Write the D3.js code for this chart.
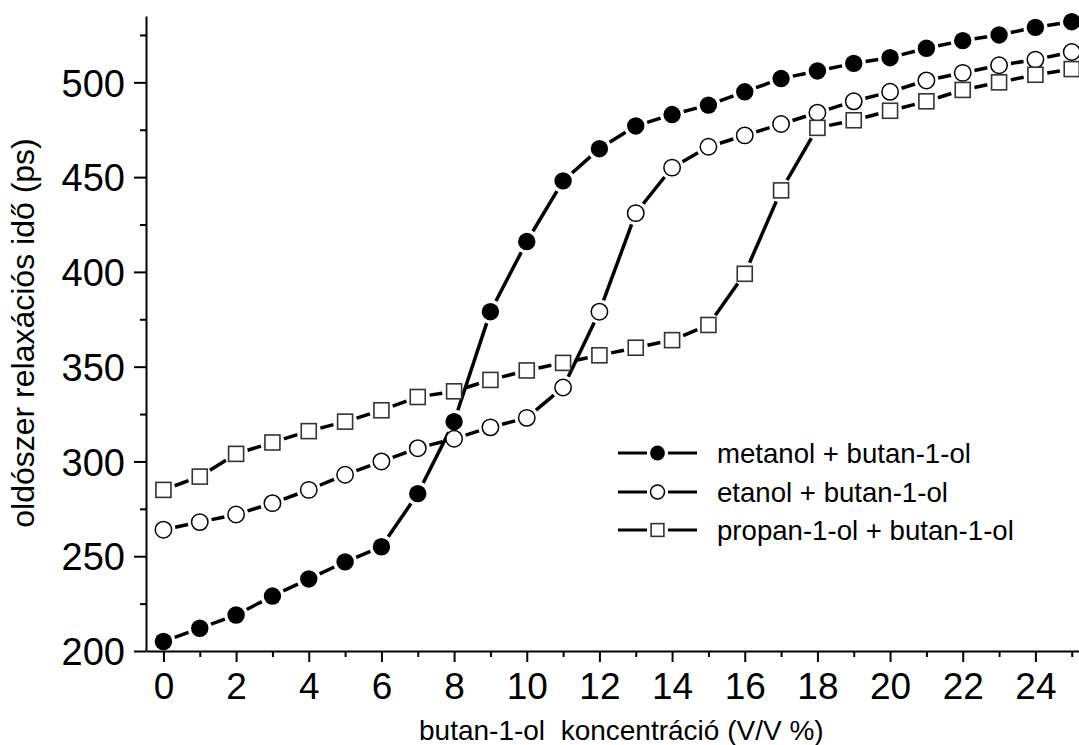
<!DOCTYPE html>
<html>
<head>
<meta charset="utf-8">
<script src="https://cdn.jsdelivr.net/npm/d3@7"></script>
<style>
  body { margin: 0; background: #fff; }
  svg text { font-family: "Liberation Sans", Arial, sans-serif; fill: #000; }
</style>
</head>
<body>
<div id="chart"></div>
<script>
// concentration of butan-1-ol (V/V %)
const conc = d3.range(0, 26);

// solvent relaxation time (ps)
const metanol = [205, 212, 219, 229, 238, 247, 255, 283, 321, 379, 416, 448, 465, 477, 483,
                 488, 495, 502, 506, 510, 513, 518, 522, 525, 529, 532];
const etanol = [264, 268, 272, 278, 285, 293, 300, 307, 312, 318, 323, 339, 379, 431, 455,
                466, 472, 478, 484, 490, 495, 501, 505, 509, 512, 516];
const propanol = [285, 292, 304, 310, 316, 321, 327, 334, 337, 343, 348, 352, 356, 360, 364,
                  372, 399, 443, 476, 480, 485, 490, 496, 500, 504, 507];

const seriesNames = ["metanol + butan-1-ol", "etanol + butan-1-ol", "propan-1-ol + butan-1-ol"];
const xTicks = d3.range(0, 25, 2);
const yTicks = [200, 250, 300, 350, 400, 450, 500];

const W = 1079, H = 745;

const svg = d3.select("#chart").append("svg")
    .attr("width", W)
    .attr("height", H);

const x = d3.scaleLinear().domain([-0.48, 25.2]).range([146, 1079]);
const y = d3.scaleLinear().domain([200, 535]).range([651, 16]);

// axes
const xAxis = svg.append("g")
    .attr("transform", "translate(0," + y(200) + ")")
    .call(d3.axisBottom(x).tickValues(xTicks).tickSize(11).tickPadding(11).tickSizeOuter(0));
svg.append("g")
    .attr("transform", "translate(0," + y(200) + ")")
    .call(d3.axisBottom(x).tickValues(d3.range(1, 26, 2)).tickSize(6).tickFormat("").tickSizeOuter(0))
    .select(".domain").remove();

const yAxis = svg.append("g")
    .attr("transform", "translate(" + x.range()[0] + ",0)")
    .call(d3.axisLeft(y).tickValues(yTicks).tickSize(12).tickPadding(9).tickSizeOuter(0));
svg.append("g")
    .attr("transform", "translate(" + x.range()[0] + ",0)")
    .call(d3.axisLeft(y).tickValues(d3.range(225, 535, 50)).tickSize(6).tickFormat("").tickSizeOuter(0))
    .select(".domain").remove();

svg.selectAll(".domain, .tick line").attr("stroke", "#000").attr("stroke-width", 2);
xAxis.selectAll("text").style("font-size", "37px").attr("font-family", null);
yAxis.selectAll("text").style("font-size", "38px").attr("font-family", null).attr("dy", "0.36em");

// axis titles
svg.append("text")
    .attr("x", 419)
    .attr("y", 740)
    .style("font-size", "28px")
    .style("white-space", "pre")
    .text("butan-1-ol  koncentráció (V/V %)");

svg.append("text")
    .attr("transform", "translate(34,333) rotate(-90)")
    .attr("text-anchor", "middle")
    .style("font-size", "32px")
    .text("oldószer relaxációs idő (ps)");

// line segments with gaps around the markers
const gap = 12;
function segments(vals) {
    const segs = [];
    for (let i = 0; i < vals.length - 1; i++) {
        const x1 = x(conc[i]), y1 = y(vals[i]);
        const x2 = x(conc[i + 1]), y2 = y(vals[i + 1]);
        const len = Math.hypot(x2 - x1, y2 - y1);
        if (len <= 2 * gap) continue;
        const ux = (x2 - x1) / len, uy = (y2 - y1) / len;
        segs.push([x1 + ux * gap, y1 + uy * gap, x2 - ux * gap, y2 - uy * gap]);
    }
    return segs;
}

const plot = svg.append("g");

[metanol, etanol, propanol].forEach(vals => {
    plot.append("g").selectAll("line")
        .data(segments(vals))
        .join("line")
        .attr("x1", d => d[0]).attr("y1", d => d[1])
        .attr("x2", d => d[2]).attr("y2", d => d[3])
        .attr("stroke", "#000")
        .attr("stroke-width", 3.5);
});

function drawMarker(g, kind, cx, cy, s) {
    if (kind === 0) {
        g.append("circle").attr("cx", cx).attr("cy", cy).attr("r", 8.7 * s).attr("fill", "#000");
    } else if (kind === 1) {
        g.append("circle").attr("cx", cx).attr("cy", cy).attr("r", 8.2 * s)
            .attr("fill", "#fff").attr("stroke", "#000").attr("stroke-width", 1.5);
    } else {
        const a = 7.5 * s;
        g.append("rect").attr("x", cx - a).attr("y", cy - a).attr("width", 2 * a).attr("height", 2 * a)
            .attr("fill", "#fff").attr("stroke", "#333").attr("stroke-width", 1.6);
    }
}

[metanol, etanol, propanol].forEach((vals, k) => {
    const g = plot.append("g");
    vals.forEach((v, i) => drawMarker(g, k, x(conc[i]), y(v), 1));
});

// legend
const legend = svg.append("g");
const legendY = [453, 492, 530];
seriesNames.forEach((name, k) => {
    const ly = legendY[k];
    legend.append("line").attr("x1", 618).attr("x2", 647).attr("y1", ly).attr("y2", ly)
        .attr("stroke", "#000").attr("stroke-width", 3);
    legend.append("line").attr("x1", 668).attr("x2", 697).attr("y1", ly).attr("y2", ly)
        .attr("stroke", "#000").attr("stroke-width", 3);
    drawMarker(legend, k, 657.5, ly, 0.85);
    legend.append("text")
        .attr("x", 717)
        .attr("y", ly + 10)
        .style("font-size", "27.6px")
        .text(name);
});
</script>
</body>
</html>
